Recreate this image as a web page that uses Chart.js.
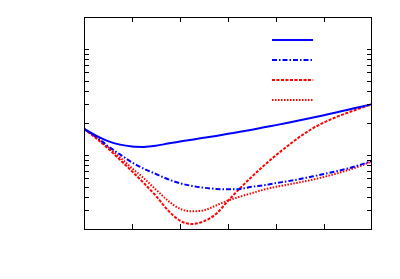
<!DOCTYPE html>
<html>
<head>
<meta charset="utf-8">
<script src="https://cdn.jsdelivr.net/npm/chart.js@4/dist/chart.umd.min.js"></script>
<style>
  html, body { margin: 0; padding: 0; background: #fff; }
  #wrap { width: 400px; height: 279px; }
</style>
</head>
<body>
<div id="wrap"><canvas id="curveChart"></canvas></div>
<script>
// x positions (plot units, 0..6)
const xValues = [0, 0.25, 0.5, 0.75, 1, 1.25, 1.5, 1.75, 2, 2.25, 2.5, 2.75, 3,
                 3.25, 3.5, 3.75, 4, 4.25, 4.5, 4.75, 5, 5.25, 5.5, 5.75, 6];

const blueSolid = [1.76, 1.52, 1.35, 1.25, 1.20, 1.19, 1.22, 1.28, 1.34, 1.39, 1.45, 1.51, 1.58,
                   1.65, 1.73, 1.82, 1.91, 2.01, 2.12, 2.24, 2.37, 2.51, 2.67, 2.83, 3.01];
const blueDashDot = [1.76, 1.49, 1.21, 1.01, 0.85, 0.74, 0.66, 0.59, 0.54, 0.51, 0.49, 0.478, 0.473,
                     0.478, 0.50, 0.517, 0.542, 0.565, 0.592, 0.625, 0.66, 0.70, 0.745, 0.805, 0.875];
const redDashed = [1.76, 1.44, 1.15, 0.90, 0.70, 0.54, 0.41, 0.30, 0.24, 0.223, 0.237, 0.277, 0.369,
                   0.484, 0.625, 0.794, 0.993, 1.222, 1.486, 1.762, 2.023, 2.27, 2.506, 2.748, 3.00];
const redDotted = [1.76, 1.46, 1.18, 0.95, 0.75, 0.60, 0.47, 0.37, 0.31, 0.294, 0.30, 0.333, 0.371,
                   0.404, 0.436, 0.471, 0.50, 0.525, 0.552, 0.582, 0.62, 0.665, 0.72, 0.785, 0.87];

// tick marks (no labels on this chart)
const xTicks = [1, 2, 3, 4, 5];
const yTicks = [0.3, 0.4, 0.5, 0.6, 0.7, 0.8, 0.9, 1, 2, 3, 4, 5, 6, 7, 8, 9, 10];

const toPoints = ys => ys.map((y, i) => ({ x: xValues[i], y: y }));

const series = [
    { label: '', data: blueSolid, color: '#0000ff', dash: [] },
    { label: '', data: blueDashDot, color: '#0000ff', dash: [5, 2, 1.5, 2] },
    { label: '', data: redDashed, color: '#ff0000', dash: [3, 1.5] },
    { label: '', data: redDotted, color: '#ff0000', dash: [1.5, 1.5] }
];

// frame, inward ticks and key samples, gnuplot style
const framePlugin = {
    id: 'frame',
    afterDraw(chart) {
        const ctx = chart.ctx;
        const a = chart.chartArea;
        const xs = chart.scales.x, ys = chart.scales.y;
        ctx.save();
        ctx.strokeStyle = '#000';
        ctx.lineWidth = 1;
        ctx.setLineDash([]);
        ctx.strokeRect(a.left + 0.5, a.top + 0.5, a.right - a.left - 1, a.bottom - a.top);
        ctx.beginPath();
        xTicks.forEach(v => {
            const px = Math.round(xs.getPixelForValue(v)) + 0.5;
            ctx.moveTo(px, a.bottom); ctx.lineTo(px, a.bottom - 5);
            ctx.moveTo(px, a.top); ctx.lineTo(px, a.top + 5);
        });
        yTicks.forEach(v => {
            const py = Math.round(ys.getPixelForValue(v)) + 0.5;
            ctx.moveTo(a.left, py); ctx.lineTo(a.left + 5, py);
            ctx.moveTo(a.right, py); ctx.lineTo(a.right - 5, py);
        });
        ctx.stroke();

        // key
        chart.data.datasets.forEach((ds, i) => {
            const y = a.top + 23 + i * 20;
            ctx.beginPath();
            ctx.strokeStyle = ds.borderColor;
            ctx.lineWidth = 2;
            ctx.setLineDash(ds.borderDash);
            ctx.moveTo(a.right - 100, y);
            ctx.lineTo(a.right - 59, y);
            ctx.stroke();
        });
        ctx.restore();
    }
};

new Chart(document.getElementById('curveChart'), {
    type: 'scatter',
    data: {
        datasets: series.map(s => ({
            label: s.label,
            data: toPoints(s.data),
            showLine: true,
            borderColor: s.color,
            backgroundColor: s.color,
            borderWidth: 2,
            borderDash: s.dash,
            pointRadius: 0,
            cubicInterpolationMode: 'monotone'
        }))
    },
    options: {
        responsive: true,
        maintainAspectRatio: false,
        animation: false,
        layout: { padding: { left: 84, top: 17, right: 28, bottom: 50 } },
        plugins: { legend: { display: false }, tooltip: { enabled: false } },
        scales: {
            x: { type: 'linear', min: 0, max: 6, display: false },
            y: { type: 'logarithmic', min: 0.2, max: 20, display: false }
        }
    },
    plugins: [framePlugin]
});
</script>
</body>
</html>
